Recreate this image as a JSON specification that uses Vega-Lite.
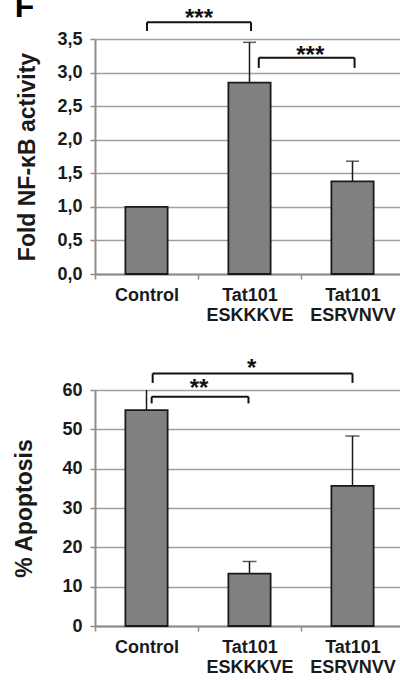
{
  "$schema": "https://vega.github.io/schema/vega-lite/v6.json",
  "background": "white",
  "padding": {"left": 13, "top": -10, "right": 0, "bottom": 0},
  "spacing": 32,
  "config": {
    "font": "Liberation Sans",
    "view": {"stroke": null},
    "axisY": {
      "grid": true, "gridColor": "#a0a0a0", "gridWidth": 1.5,
      "domainColor": "#8c8c8c", "domainWidth": 2,
      "tickColor": "#8c8c8c", "tickSize": 5, "tickWidth": 1.5,
      "labelFont": "Liberation Sans", "labelFontWeight": "bold", "labelFontSize": 18, "labelColor": "#1a1a1a", "labelPadding": 8,
      "titleFont": "Liberation Sans", "titleFontWeight": "bold", "titleFontSize": 23, "titleColor": "#1a1a1a"
    },
    "axisX": {
      "grid": false,
      "domainColor": "#8c8c8c", "domainWidth": 2,
      "tickColor": "#8c8c8c", "tickSize": 5, "tickWidth": 1.5,
      "labelFont": "Liberation Sans", "labelFontWeight": "bold", "labelFontSize": 18, "labelColor": "#1a1a1a",
      "labelPadding": 7, "labelLineHeight": 20, "labelAngle": 0
    }
  },
  "vconcat": [
    {
      "width": 309,
      "height": 235,
      "resolve": {"scale": {"x": "independent"}, "axis": {"x": "independent"}},
      "layer": [
        {
          "data": {"values": [
            {"group": "Control", "value": 1.0, "upper": 1.0},
            {"group": "Tat101 ESKKKVE", "value": 2.85, "upper": 3.45},
            {"group": "Tat101 ESRVNVV", "value": 1.38, "upper": 1.68}
          ]},
          "layer": [
            {
              "mark": {"type": "bar", "fill": "#808080", "stroke": "#1a1a1a", "strokeWidth": 1.8, "width": {"band": 0.41}},
              "encoding": {
                "x": {"field": "group", "type": "nominal", "sort": null, "title": null,
                  "scale": {"paddingInner": 0, "paddingOuter": 0},
                  "axis": {"tickBand": "extent", "labelExpr": "split(datum.label, ' ')"}},
                "y": {"field": "value", "type": "quantitative", "title": "Fold NF-κB activity",
                  "scale": {"domain": [0, 3.5], "nice": false},
                  "axis": {"values": [0, 0.5, 1, 1.5, 2, 2.5, 3, 3.5], "titlePadding": 17, "labelExpr": "replace(format(datum.value, '.1f'), '.', ',')"}}
              }
            },
            {
              "transform": [{"filter": "datum.upper > datum.value"}],
              "mark": {"type": "rule", "color": "#1a1a1a", "strokeWidth": 1.5},
              "encoding": {
                "x": {"field": "group", "type": "nominal", "sort": null, "title": null},
                "y": {"field": "value", "type": "quantitative", "title": "Fold NF-κB activity", "scale": {"domain": [0, 3.5], "nice": false},
                  "axis": {"values": [0, 0.5, 1, 1.5, 2, 2.5, 3, 3.5], "titlePadding": 17, "labelExpr": "replace(format(datum.value, '.1f'), '.', ',')"}},
                "y2": {"field": "upper"}
              }
            },
            {
              "transform": [{"filter": "datum.upper > datum.value"}],
              "mark": {"type": "tick", "color": "#1a1a1a", "thickness": 1.5, "size": 13},
              "encoding": {
                "x": {"field": "group", "type": "nominal", "sort": null, "title": null},
                "y": {"field": "upper", "type": "quantitative", "title": "Fold NF-κB activity", "scale": {"domain": [0, 3.5], "nice": false},
                  "axis": {"values": [0, 0.5, 1, 1.5, 2, 2.5, 3, 3.5], "titlePadding": 17, "labelExpr": "replace(format(datum.value, '.1f'), '.', ',')"}}
              }
            }
          ]
        },
        {
          "data": {"values": [
            {"x1": 0.505, "x2": 1.515, "ytop": 3.75, "yleg": 3.62, "label": "***", "xl": 1.01, "yl": 3.7},
            {"x1": 1.59, "x2": 2.52, "ytop": 3.22, "yleg": 3.07, "label": "***", "xl": 2.09, "yl": 3.15}
          ]},
          "layer": [
            {
              "mark": {"type": "rule", "color": "#111", "strokeWidth": 2},
              "encoding": {
                "x": {"field": "x1", "type": "quantitative", "axis": null, "scale": {"domain": [0, 3], "nice": false, "zero": false}},
                "x2": {"field": "x2"},
                "y": {"field": "ytop", "type": "quantitative", "title": "Fold NF-κB activity", "scale": {"domain": [0, 3.5], "nice": false},
                  "axis": {"values": [0, 0.5, 1, 1.5, 2, 2.5, 3, 3.5], "titlePadding": 17, "labelExpr": "replace(format(datum.value, '.1f'), '.', ',')"}}
              }
            },
            {
              "mark": {"type": "rule", "color": "#111", "strokeWidth": 2},
              "encoding": {
                "x": {"field": "x1", "type": "quantitative", "axis": null, "scale": {"domain": [0, 3], "nice": false, "zero": false}},
                "y": {"field": "ytop", "type": "quantitative", "title": "Fold NF-κB activity", "scale": {"domain": [0, 3.5], "nice": false},
                  "axis": {"values": [0, 0.5, 1, 1.5, 2, 2.5, 3, 3.5], "titlePadding": 17, "labelExpr": "replace(format(datum.value, '.1f'), '.', ',')"}},
                "y2": {"field": "yleg"}
              }
            },
            {
              "mark": {"type": "rule", "color": "#111", "strokeWidth": 2},
              "encoding": {
                "x": {"field": "x2", "type": "quantitative", "axis": null, "scale": {"domain": [0, 3], "nice": false, "zero": false}},
                "y": {"field": "ytop", "type": "quantitative", "title": "Fold NF-κB activity", "scale": {"domain": [0, 3.5], "nice": false},
                  "axis": {"values": [0, 0.5, 1, 1.5, 2, 2.5, 3, 3.5], "titlePadding": 17, "labelExpr": "replace(format(datum.value, '.1f'), '.', ',')"}},
                "y2": {"field": "yleg"}
              }
            },
            {
              "mark": {"type": "text", "font": "Liberation Sans", "fontWeight": "bold", "fontSize": 24, "color": "#111", "baseline": "alphabetic", "align": "center"},
              "encoding": {
                "x": {"field": "xl", "type": "quantitative", "axis": null, "scale": {"domain": [0, 3], "nice": false, "zero": false}},
                "y": {"field": "yl", "type": "quantitative", "title": "Fold NF-κB activity", "scale": {"domain": [0, 3.5], "nice": false},
                  "axis": {"values": [0, 0.5, 1, 1.5, 2, 2.5, 3, 3.5], "titlePadding": 17, "labelExpr": "replace(format(datum.value, '.1f'), '.', ',')"}},
                "text": {"field": "label"}
              }
            }
          ]
        },
        {
          "data": {"values": [{"panel": "F", "px": -0.78, "py": 3.83}]},
          "mark": {"type": "text", "font": "Liberation Sans", "fontWeight": "bold", "fontSize": 32, "color": "#000", "baseline": "alphabetic", "align": "left"},
          "encoding": {
            "x": {"field": "px", "type": "quantitative", "axis": null, "scale": {"domain": [0, 3], "nice": false, "zero": false}},
            "y": {"field": "py", "type": "quantitative", "title": "Fold NF-κB activity", "scale": {"domain": [0, 3.5], "nice": false},
              "axis": {"values": [0, 0.5, 1, 1.5, 2, 2.5, 3, 3.5], "titlePadding": 17, "labelExpr": "replace(format(datum.value, '.1f'), '.', ',')"}},
            "text": {"field": "panel"}
          }
        }
      ]
    },
    {
      "width": 309,
      "height": 236,
      "resolve": {"scale": {"x": "independent"}, "axis": {"x": "independent"}},
      "layer": [
        {
          "data": {"values": [
            {"group": "Control", "value": 54.9, "upper": 62.0},
            {"group": "Tat101 ESKKKVE", "value": 13.3, "upper": 16.4},
            {"group": "Tat101 ESRVNVV", "value": 35.6, "upper": 48.3}
          ]},
          "layer": [
            {
              "mark": {"type": "bar", "fill": "#808080", "stroke": "#1a1a1a", "strokeWidth": 1.8, "width": {"band": 0.41}},
              "encoding": {
                "x": {"field": "group", "type": "nominal", "sort": null, "title": null,
                  "scale": {"paddingInner": 0, "paddingOuter": 0},
                  "axis": {"tickBand": "extent", "labelExpr": "split(datum.label, ' ')"}},
                "y": {"field": "value", "type": "quantitative", "title": "% Apoptosis",
                  "scale": {"domain": [0, 60], "nice": false},
                  "axis": {"values": [0, 10, 20, 30, 40, 50, 60], "titlePadding": 25}}
              }
            },
            {
              "mark": {"type": "rule", "color": "#1a1a1a", "strokeWidth": 1.5, "clip": true},
              "encoding": {
                "x": {"field": "group", "type": "nominal", "sort": null, "title": null},
                "y": {"field": "value", "type": "quantitative", "title": "% Apoptosis", "scale": {"domain": [0, 60], "nice": false},
                  "axis": {"values": [0, 10, 20, 30, 40, 50, 60], "titlePadding": 25}},
                "y2": {"field": "upper"}
              }
            },
            {
              "mark": {"type": "tick", "color": "#1a1a1a", "thickness": 1.5, "size": 14, "clip": true},
              "encoding": {
                "x": {"field": "group", "type": "nominal", "sort": null, "title": null},
                "y": {"field": "upper", "type": "quantitative", "title": "% Apoptosis", "scale": {"domain": [0, 60], "nice": false},
                  "axis": {"values": [0, 10, 20, 30, 40, 50, 60], "titlePadding": 25}}
              }
            }
          ]
        },
        {
          "data": {"values": [
            {"x1": 0.55, "x2": 1.49, "ytop": 58.3, "yleg": 56.6, "label": "**", "xl": 1.01, "yl": 58.5},
            {"x1": 0.56, "x2": 2.5, "ytop": 64.2, "yleg": 61.8, "label": "*", "xl": 1.52, "yl": 63.6}
          ]},
          "layer": [
            {
              "mark": {"type": "rule", "color": "#111", "strokeWidth": 2},
              "encoding": {
                "x": {"field": "x1", "type": "quantitative", "axis": null, "scale": {"domain": [0, 3], "nice": false, "zero": false}},
                "x2": {"field": "x2"},
                "y": {"field": "ytop", "type": "quantitative", "title": "% Apoptosis", "scale": {"domain": [0, 60], "nice": false},
                  "axis": {"values": [0, 10, 20, 30, 40, 50, 60], "titlePadding": 25}}
              }
            },
            {
              "mark": {"type": "rule", "color": "#111", "strokeWidth": 2},
              "encoding": {
                "x": {"field": "x1", "type": "quantitative", "axis": null, "scale": {"domain": [0, 3], "nice": false, "zero": false}},
                "y": {"field": "ytop", "type": "quantitative", "title": "% Apoptosis", "scale": {"domain": [0, 60], "nice": false},
                  "axis": {"values": [0, 10, 20, 30, 40, 50, 60], "titlePadding": 25}},
                "y2": {"field": "yleg"}
              }
            },
            {
              "mark": {"type": "rule", "color": "#111", "strokeWidth": 2},
              "encoding": {
                "x": {"field": "x2", "type": "quantitative", "axis": null, "scale": {"domain": [0, 3], "nice": false, "zero": false}},
                "y": {"field": "ytop", "type": "quantitative", "title": "% Apoptosis", "scale": {"domain": [0, 60], "nice": false},
                  "axis": {"values": [0, 10, 20, 30, 40, 50, 60], "titlePadding": 25}},
                "y2": {"field": "yleg"}
              }
            },
            {
              "mark": {"type": "text", "font": "Liberation Sans", "fontWeight": "bold", "fontSize": 24, "color": "#111", "baseline": "alphabetic", "align": "center"},
              "encoding": {
                "x": {"field": "xl", "type": "quantitative", "axis": null, "scale": {"domain": [0, 3], "nice": false, "zero": false}},
                "y": {"field": "yl", "type": "quantitative", "title": "% Apoptosis", "scale": {"domain": [0, 60], "nice": false},
                  "axis": {"values": [0, 10, 20, 30, 40, 50, 60], "titlePadding": 25}},
                "text": {"field": "label"}
              }
            }
          ]
        }
      ]
    }
  ]
}
